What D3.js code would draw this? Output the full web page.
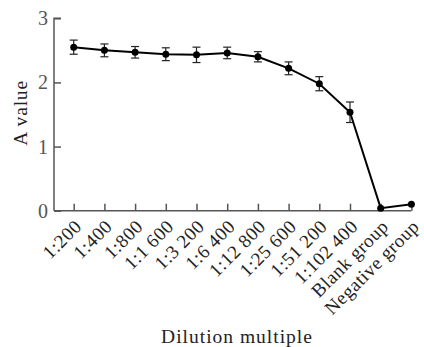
<!DOCTYPE html>
<html><head><meta charset="utf-8">
<script src="https://cdn.jsdelivr.net/npm/d3@7"></script>
<style>body{margin:0;background:#fff}svg{display:block}text{font-family:"Liberation Serif","DejaVu Serif",serif;fill:#222}</style>
</head><body>
<svg id="c" width="424" height="347"></svg>
<script>
const categories = ["1:200","1:400","1:800","1:1 600","1:3 200","1:6 400","1:12 800","1:25 600","1:51 200","1:102 400","Blank group","Negative group"];
const values = [2.55, 2.50, 2.47, 2.44, 2.43, 2.46, 2.40, 2.22, 1.98, 1.535, 0.04, 0.10];
const errors = [0.11, 0.10, 0.09, 0.10, 0.12, 0.09, 0.08, 0.10, 0.11, 0.16, 0, 0];
const yTicks = [0, 1, 2, 3];

const svg = d3.select("#c");
const x = d3.scalePoint().domain(categories).range([73.7, 411.4]);
const y = d3.scaleLinear().domain([0, 3]).range([210.7, 18.3]);
const axisColor = "#555";

// y axis
const ya = svg.append("g").attr("transform", "translate(54,0)")
  .call(d3.axisRight(y).tickValues(yTicks).tickSize(7).tickFormat(""));
ya.select(".domain").attr("d", `M7,${y(3)}H0V${y(0)}`);
ya.selectAll("line,path").attr("stroke", axisColor).attr("stroke-width", 1.5);
svg.append("g").selectAll("text").data(yTicks).join("text")
  .attr("x", 48).attr("y", d => y(d) + 7).attr("text-anchor", "end")
  .style("font-size", "20px").style("fill", "#555").text(d => d);

// x axis
const xa = svg.append("g").attr("transform", `translate(0,${y(0)})`)
  .call(d3.axisTop(x).tickSize(7).tickFormat("").tickSizeOuter(0));
xa.select(".domain").attr("d", `M54,0H${x("Negative group")}`);
xa.selectAll("line,path").attr("stroke", axisColor).attr("stroke-width", 1.5);
svg.append("g").selectAll("text").data(categories).join("text")
  .attr("transform", d => `translate(${x(d) + 9},${y(0) + 17}) rotate(-45)`)
  .attr("text-anchor", "end").style("font-size", "19px").style("letter-spacing", "0.5px").text(d => d);

// error bars
const eb = svg.append("g").attr("stroke", "#222").attr("stroke-width", 1.2);
categories.forEach((c, i) => {
  if (!errors[i]) return;
  const cx = x(c), t = y(values[i] + errors[i]), b = y(values[i] - errors[i]);
  eb.append("line").attr("x1", cx).attr("x2", cx).attr("y1", t).attr("y2", b);
  eb.append("line").attr("x1", cx - 4).attr("x2", cx + 4).attr("y1", t).attr("y2", t);
  eb.append("line").attr("x1", cx - 4).attr("x2", cx + 4).attr("y1", b).attr("y2", b);
});

// line
svg.append("path").datum(values)
  .attr("fill", "none").attr("stroke", "#000").attr("stroke-width", 2)
  .attr("d", d3.line().x((d, i) => x(categories[i])).y(d => y(d)));
svg.append("g").selectAll("circle").data(values).join("circle")
  .attr("cx", (d, i) => x(categories[i])).attr("cy", d => y(d)).attr("r", 3.5).attr("fill", "#000");

// titles
svg.append("text").attr("x", 237).attr("y", 343).attr("text-anchor", "middle")
  .style("font-size", "19.5px").style("letter-spacing", "1px").text("Dilution multiple");
svg.append("text").attr("transform", "translate(27,113) rotate(-90)").attr("text-anchor", "middle")
  .style("font-size", "19.5px").style("letter-spacing", "0.8px").text("A value");
</script>
</body></html>
